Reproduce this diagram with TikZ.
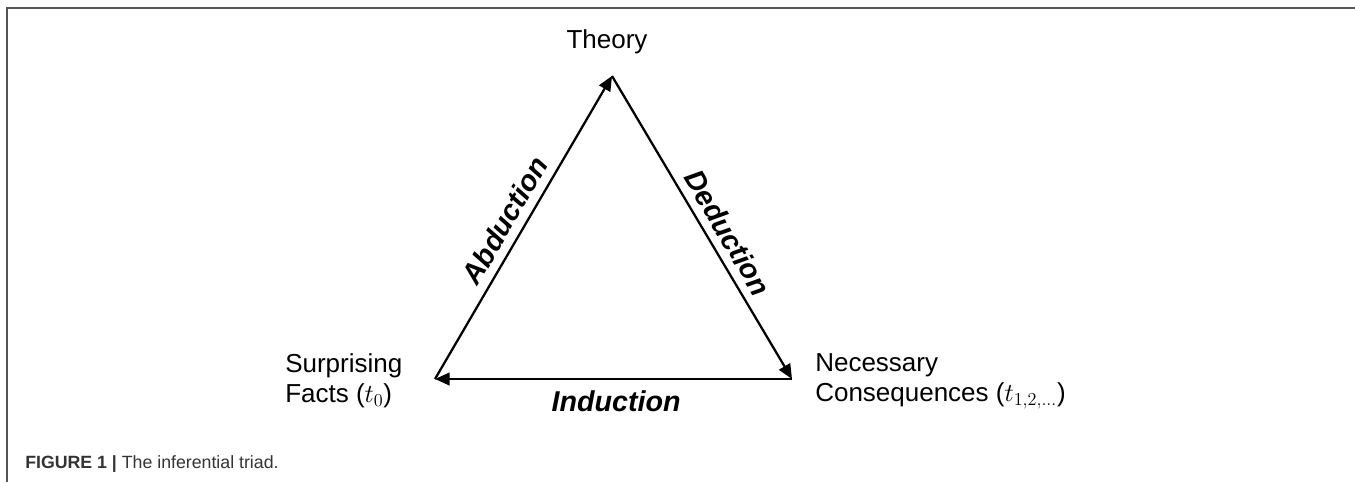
\documentclass[tikz,border=0pt]{standalone}
\usepackage{fix-cm}
\usepackage[no-math]{fontspec}
\setmainfont{Liberation Sans}
\usepackage{amsmath}
\usetikzlibrary{arrows.meta,positioning}
\definecolor{CapGray}{HTML}{333333}
\definecolor{FrameGray}{HTML}{555555}

\begin{document}
\begin{tikzpicture}[x=0.75pt,y=-0.75pt,
    lbl/.style={font=\fontsize{19.5}{22.5}\selectfont, inner sep=0pt, align=left},
    infer/.style={font=\fontsize{21.5}{25}\selectfont\bfseries\itshape, inner sep=6pt},
    arr/.style={line width=1.7pt, -{Triangle[length=11pt,width=9.5pt]}}]
  \useasboundingbox (0,0) rectangle (1355,482);
  % frame of the figure
  \draw[FrameGray, line width=1.3pt] (7,482) -- (7,8) -- (1355,8);

  % corners of the triad
  \coordinate (apex) at (612,76);
  \coordinate (lft) at (435,379);
  \coordinate (rgt) at (792,379);

  \node[lbl, anchor=base] (theory) at (607,48) {Theory};
  \node[lbl, anchor=north west] (facts) at (285,353) {Surprising\\Facts ($t_0$)};
  \node[lbl, anchor=north west] (conseq) at (815,353)
    {Necessary\\Consequences ($t_{1,2,\ldots}$)};

  \draw[arr] (lft) -- node[infer, sloped, above, pos=0.49] (abd) {Abduction} (apex);
  \draw[arr] (apex) -- node[infer, sloped, above, pos=0.55] (ded) {Deduction} (rgt);
  \draw[arr] (rgt) -- node[infer, below, inner sep=8pt, xshift=2pt] (ind) {Induction} (lft);

  \node[anchor=base west, inner sep=0pt, text=CapGray,
        font=\fontsize{13.3}{16}\selectfont] (cap) at (25,468)
    {\textbf{FIGURE 1 |} The inferential triad.};
\end{tikzpicture}
\end{document}
